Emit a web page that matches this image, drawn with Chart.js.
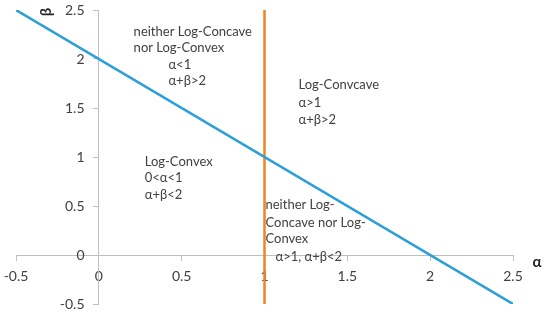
<!DOCTYPE html>
<html>
<head>
<meta charset="utf-8">
<script src="https://cdn.jsdelivr.net/npm/chart.js@4.4.0/dist/chart.umd.min.js"></script>
<style>
html,body{margin:0;padding:0;background:#fff;}
#wrap{width:550px;height:315px;position:relative;}
</style>
</head>
<body>
<div id="wrap"><canvas id="c" width="550" height="315"></canvas></div>
<script>
// Boundary lines (alpha, beta)
const diagAlpha = [-0.5, 2.5];
const diagBeta  = [2.5, -0.5];
const vertAlpha = [1, 1];
const vertBeta  = [2.5, -0.5];
// Axis ranges / ticks
const axisMin = -0.5;
const axisMax = 2.5;
const tickStep = 0.5;
// Region annotations: text lines with anchor in data units (alpha, beta)
const noteText  = ["neither Log-Concave", "nor Log-Convex", "α<1", "α+β>2",
                   "Log-Convcave", "α>1", "α+β>2",
                   "Log-Convex", "0<α<1", "α+β<2",
                   "neither Log-", "Concave nor Log-", "Convex", "α>1, α+β<2"];
const noteAlpha = [0.21, 0.21, 0.42, 0.42,
                   1.205, 1.205, 1.205,
                   0.277, 0.277, 0.277,
                   1.006, 1.006, 1.006, 1.066];
const noteBeta  = [2.275, 2.11, 1.94, 1.776,
                   1.735, 1.55, 1.378,
                   0.95, 0.786, 0.612,
                   0.51, 0.327, 0.163, -0.02];

const toPts = (xs, ys) => xs.map((x, i) => ({x: x, y: ys[i]}));
const FONT = "Lato, 'Open Sans', sans-serif";
const AXIS_COL = '#BFBFBF';
const TEXT_COL = '#404040';

const notesPlugin = {
  id: 'notes',
  afterDraw(chart) {
    const ctx = chart.ctx, xs = chart.scales.x, ys = chart.scales.y;
    ctx.save();
    ctx.fillStyle = TEXT_COL;
    ctx.font = "13px " + FONT;
    ctx.textAlign = 'left';
    ctx.textBaseline = 'middle';
    noteText.forEach((t, i) => {
      ctx.fillText(t, xs.getPixelForValue(noteAlpha[i]), ys.getPixelForValue(noteBeta[i]));
    });
    // axis titles
    ctx.fillStyle = '#262626';
    ctx.font = "bold 15px " + FONT;
    ctx.textAlign = 'center';
    ctx.fillText('α', xs.right + 24, ys.getPixelForValue(0) + 7);
    ctx.save();
    ctx.translate(xs.getPixelForValue(axisMin) + 30, ys.getPixelForValue(axisMax) + 2);
    ctx.rotate(-Math.PI / 2);
    ctx.fillText('β', 0, 0);
    ctx.restore();
    ctx.restore();
  }
};

new Chart(document.getElementById('c'), {
  type: 'scatter',
  data: {
    datasets: [
      {data: toPts(diagAlpha, diagBeta), showLine: true, borderColor: '#2B9FD9', borderWidth: 2.5, pointRadius: 0, fill: false},
      {data: toPts(vertAlpha, vertBeta), showLine: true, borderColor: '#F28322', borderWidth: 2.5, pointRadius: 0, fill: false}
    ]
  },
  options: {
    responsive: false,
    animation: false,
    layout: {padding: {left: 16, right: 37, top: 10, bottom: 11}},
    plugins: {legend: {display: false}, tooltip: {enabled: false}},
    scales: {
      x: {
        type: 'linear', min: axisMin, max: axisMax,
        position: {y: 0},
        afterFit(s) { s.paddingLeft = 0; s.paddingRight = 0; },
        grid: {drawOnChartArea: false, drawTicks: true, tickLength: 5, color: AXIS_COL},
        border: {color: AXIS_COL, width: 1},
        ticks: {stepSize: tickStep, color: TEXT_COL, font: {family: FONT, size: 14}, padding: 8, maxRotation: 0,
                callback: v => String(v)}
      },
      y: {
        type: 'linear', min: axisMin, max: axisMax,
        position: {x: 0},
        afterFit(s) { s.paddingTop = 0; s.paddingBottom = 0; },
        grid: {drawOnChartArea: false, drawTicks: true, tickLength: 5, color: AXIS_COL},
        border: {color: AXIS_COL, width: 1},
        ticks: {stepSize: tickStep, color: TEXT_COL, font: {family: FONT, size: 14}, padding: 4,
                callback: v => String(v) + '    '}
      }
    }
  },
  plugins: [notesPlugin]
});
</script>
</body>
</html>
